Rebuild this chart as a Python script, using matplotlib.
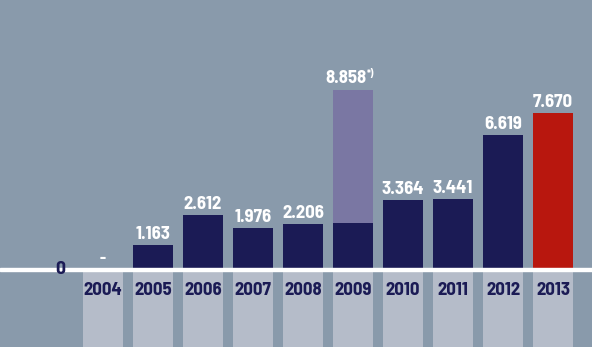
import matplotlib.pyplot as plt

years = ['2004', '2005', '2006', '2007', '2008', '2009', '2010', '2011', '2012', '2013']
values = [0.0, 1.163, 2.612, 1.976, 2.206, 2.25, 3.364, 3.441, 6.619, 7.670]
labels = ['-', '1.163', '2.612', '1.976', '2.206', '8.858', '3.364', '3.441', '6.619', '7.670']
total_2009 = 8.858   # full 2009 figure, shown as lighter bar behind the regular part

BG = '#899aab'
COL = '#b5bcc9'
NAVY = '#1b1b55'
PURPLE = '#7a77a3'
RED = '#b8170e'
FONT = ['Barlow Semi Condensed', 'DejaVu Sans']

fig = plt.figure(figsize=(5.92, 3.47), dpi=100)
fig.patch.set_facecolor(BG)
ax = fig.add_axes([0, 0, 1, 1])
ax.set_facecolor(BG)
ax.set_xlim(-2.06, 9.78)
ax.set_ylim(-3.92, 13.3)
ax.axis('off')

x = list(range(len(years)))
w = 0.8

# light columns under the baseline holding the year labels
ax.bar(x, [-4] * len(x), bottom=-0.17, width=w, color=COL, zorder=1)

# the 2009 total as a lighter bar behind
ax.bar(5, total_2009, width=w, color=PURPLE, zorder=2)
colors = [NAVY] * (len(years) - 1) + [RED]
ax.bar(x, values, width=w, color=colors, zorder=3)

# white baseline
ax.axhspan(-0.17, 0.0, color='white', zorder=4)

for i, (yr, v, lab) in enumerate(zip(years, values, labels)):
    ax.text(i, -1.1, yr, ha='center', va='center', color=NAVY,
            fontsize=13.5, fontweight='bold', family=FONT, zorder=5)
    if i == 5:
        ax.text(i + 0.26, total_2009 + 0.12, lab, ha='right', va='bottom',
                color='white', fontsize=13.5, fontweight='bold', family=FONT, zorder=5)
        ax.text(i + 0.27, total_2009 + 0.5, '*)', ha='left', va='bottom',
                color='white', fontsize=7.5, fontweight='bold', family=FONT, zorder=5)
    elif i == 0:
        ax.text(i, 0.1, lab, ha='center', va='bottom', color='white',
                fontsize=12, fontweight='bold', family=FONT, zorder=5)
    else:
        ax.text(i, v + 0.1, lab, ha='center', va='bottom', color='white',
                fontsize=13.5, fontweight='bold', family=FONT, zorder=5)

ax.text(-0.86, -0.08, '0', ha='center', va='center', color=NAVY,
        fontsize=14, fontweight='bold', family=FONT, zorder=6)

fig.savefig('out.png', dpi=100, facecolor=BG)
